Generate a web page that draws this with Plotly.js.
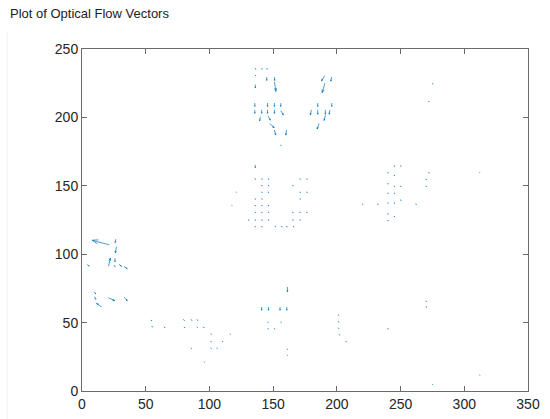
<!DOCTYPE html>
<html><head><meta charset="utf-8">
<script src="https://cdn.plot.ly/plotly-3.0.1.min.js"></script>
<style>html,body{margin:0;padding:0;background:#fff}#chart{width:550px;height:419px}</style>
</head><body><div id="chart"></div>
<script>
// Tail positions (x, y) and drawn displacement (u, v) of each flow vector
const vecX = [
  // top cluster
  136,141,145,136,145,151,136,151,190.5,196,190.6,
  135.6,135.6,141,140,145.6,145.6,151,151,156,156,146,147.4,151,160.5,156,
  185,196,180,185,191,194.5,191,186,275,272,
  // left cluster
  21.5,26.5,27,20.8,4,25.9,25,29,33,9.6,9.8,15.4,20.6,33.2,
  // bottom-left dots
  54,54.6,64.3,79.5,80,85.5,90,90,95,101,101,110,116,85.5,101,105.7,95.8,
  // middle-bottom cluster
  161.2,141,146.3,155.4,160.7,145.8,156,145.8,151,161,161,
  201.2,201.2,201.2,201.8,207,
  // grid cluster
  135.8,
  135.8,141,146.2,171,176.3,
  141,146.2,165.3,
  141,146.2,171,176.3,120.9,
  135.8,141,171,
  135.8,141,146.2,117.5,
  135.8,141,146.2,165.3,171,176.3,
  130.5,135.8,141,146.2,165.3,171,
  135.8,141,151.5,156.7,160.6,165.8,
  // right cluster
  245,250,240,245,240,245,250,240,245,240,245,250,240,245,240,220,232,262,270,272,270,
  240,270,270,312,275,312
];
const vecY = [
  236,236,236,231,229.5,229.5,224,226,230.5,229.5,225,
  210.5,205.5,205.5,200.5,210.5,205.5,210.5,205.5,210.5,205,201,195.6,190.8,190.8,180,
  210.5,210.5,205.5,205.5,205.5,205.5,201.5,195.6,225,212,
  106.8,111,105.5,91.2,92.5,97,92,92.6,91,72.6,69,61.5,68.2,68.5,
  52,47.5,47,52.4,47,52.4,52.4,47,47,42,36.5,36.5,42,31.7,31.7,31.7,21.5,
  76,61.5,61.5,61.5,61.5,50.7,50.7,45.9,45.9,31,26.4,
  56,51,46.3,41.5,36.6,
  165.2,
  155.5,155.5,155.5,155.5,155.5,
  150.6,150.6,150.6,
  145.7,145.7,145.7,145.7,145.7,
  140.9,140.9,140.9,
  136,136,136,136,
  131,131,131,131,131,131,
  125.5,125.5,125.5,125.5,125.5,125.5,
  120.6,120.6,120.6,120.6,120.6,120.6,
  165,165,160,158,152,150,150,145,145,138,138,140,130,128,125,137,137,137,155,160,150,
  46,62,66,160,5,12
];
const vecU = [
  0.3,0.3,0.3,0.3,0,0.2,0,1.2,-2.6,-0.7,-2.1,
  0,0,0,-0.6,0,0,0,0,0,2,1.8,3.4,1,-0.5,0.3,
  0,0,-0.8,0,0,-0.5,-1,-1.5,0.3,0.3,
  -13.5,-0.5,-0.8,1.5,1.6,0,1,2,2.5,1.1,1,-4,5.3,2.3,
  0.8,0.8,0.8,0.8,0.8,0.8,0.8,0.8,0.8,0.5,0.5,0.5,0.4,0.5,0.5,0.5,0.3,
  0,0,0,0,0,0.4,0.4,0.4,0.4,0.3,0.3,
  0.3,0.3,0.3,0.3,0.4,
  0.2,
  0.3,0.3,0.3,0.3,0.3,
  0.3,0.3,0.3,
  0.3,0.3,0.3,0.3,0.2,
  0.3,0.3,0.3,
  0.3,0.3,0.3,0.2,
  0.3,0.3,0.3,0.3,0.3,0.3,
  0.3,0.3,0.3,0.3,0.3,0.3,
  0.3,0.3,0.3,0.3,0.3,0.3,
  0.3,0.3,0.3,0.3,0.3,0.3,0.3,0.3,0.3,0.3,0.3,0.3,0.3,0.3,0.3,0.3,0.3,0.3,0.3,0.3,0.3,
  0.3,0.3,0.3,0.2,0.2,0.2
];
const vecV = [
  -0.8,-0.8,-0.8,-0.8,-2.5,-2.5,-2.5,-7,-3.9,-3,-7,
  -2.5,-2.5,-2.5,-3,-2.5,-2.5,-2.5,-2.5,-2.5,-3.2,-3,-3.2,-3.7,-3.7,-0.7,
  -2.5,-2.5,-3.7,-3.2,-3.2,-3.2,-3.7,-4.1,-0.7,-0.7,
  3.4,-2.5,-4.5,6,-1.2,-2.5,-1,-1.4,-1.6,-1.6,-2,2.5,-2.2,-2.5,
  -0.8,-0.8,-0.8,-0.8,-0.8,-0.8,-0.8,-0.8,-0.8,-0.7,-0.7,-0.7,-0.6,-0.7,-0.7,-0.7,-0.5,
  -3.5,-2.5,-2.5,-2.5,-2.5,-0.7,-0.7,-0.7,-0.7,-0.7,-0.5,
  -0.7,-0.7,-0.7,-0.7,-0.7,
  -2,
  -0.8,-0.8,-0.8,-0.8,-0.8,
  -0.8,-0.8,-0.8,
  -0.8,-0.8,-0.8,-0.8,-0.5,
  -0.8,-0.8,-0.8,
  -0.8,-0.8,-0.8,-0.5,
  -0.8,-0.8,-0.8,-0.8,-0.8,-0.8,
  -0.8,-0.8,-0.8,-0.8,-0.8,-0.8,
  -0.8,-0.8,-0.8,-0.8,-0.8,-0.8,
  -0.8,-0.8,-0.8,-0.8,-0.8,-0.8,-0.8,-0.8,-0.8,-0.8,-0.8,-0.8,-0.8,-0.8,-0.8,-0.8,-0.8,-0.8,-0.8,-0.8,-0.8,
  -0.8,-0.8,-0.8,-0.5,-0.5,-0.5
];
const xTicks = [0,50,100,150,200,250,300,350];
const yTicks = [0,50,100,150,200,250];
const titleText = 'Plot of Optical Flow Vectors';

// quiver geometry (shaft + head, MATLAB style), all in data units
const alpha = 0.33, beta = 0.33;
const lx = [], ly = [];
for (let i = 0; i < vecX.length; i++) {
  const x = vecX[i], y = vecY[i], u = vecU[i], v = vecV[i];
  lx.push(x, x + u, null); ly.push(y, y + v, null);
  lx.push(x + u - alpha * (u + beta * v), x + u, x + u - alpha * (u - beta * v), null);
  ly.push(y + v - alpha * (v - beta * u), y + v, y + v - alpha * (v + beta * u), null);
}

const axisCommon = {
  showgrid: false, zeroline: false, showline: true, mirror: 'ticks',
  linecolor: '#6a6a6a', linewidth: 1,
  ticks: 'inside', ticklen: 5, tickcolor: '#6a6a6a', tickwidth: 1,
  tickfont: {family: 'Liberation Sans, Arial, sans-serif', size: 14, color: '#262626'},
  automargin: false, fixedrange: true
};

const layout = {
  width: 550, height: 419,
  margin: {l: 82, r: 22, t: 49, b: 28, pad: 0},
  paper_bgcolor: '#fff', plot_bgcolor: '#fff',
  showlegend: false,
  title: {
    text: titleText, xref: 'container', yref: 'container',
    x: 10 / 550, xanchor: 'left', y: 1 - 13 / 419, yanchor: 'middle',
    font: {family: 'Liberation Sans, Arial, sans-serif', size: 13, color: '#222'}
  },
  xaxis: Object.assign({}, axisCommon, {range: [0, 350], tickvals: xTicks, ticktext: xTicks.map(String)}),
  yaxis: Object.assign({}, axisCommon, {range: [0, 250], tickvals: yTicks, ticktext: yTicks.map(String)}),
  shapes: [{type: 'line', xref: 'paper', yref: 'paper', x0: -75 / 446, x1: -75 / 446, y0: -28 / 342, y1: 360 / 342,
            line: {color: '#f2f2f2', width: 1}}]
};

Plotly.newPlot('chart', [{
  type: 'scatter', mode: 'lines', x: lx, y: ly, hoverinfo: 'skip',
  line: {color: '#0072BD', width: 0.7}, cliponaxis: false
}], layout, {staticPlot: true, displayModeBar: false});
</script></body></html>
